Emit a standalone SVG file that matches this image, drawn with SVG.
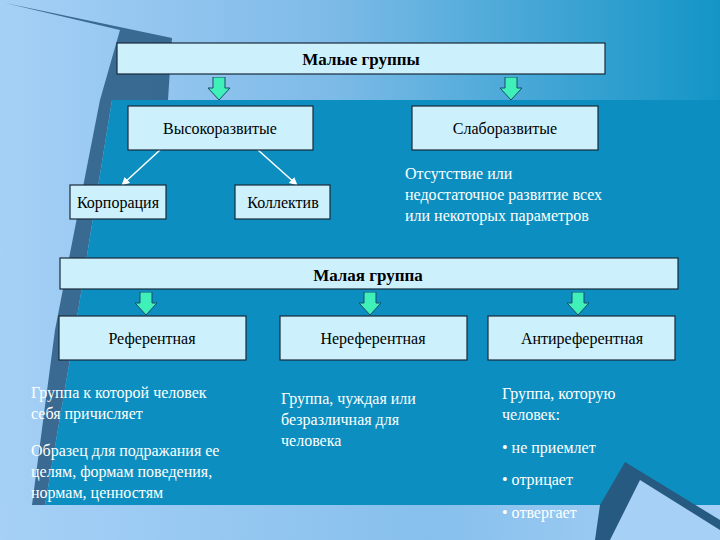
<svg xmlns="http://www.w3.org/2000/svg" width="720" height="540" viewBox="0 0 720 540">
<defs>
<linearGradient id="bg" x1="0" y1="0" x2="1" y2="0"><stop offset="0" stop-color="#a6d0f6"/><stop offset="0.45" stop-color="#7fbbe8"/><stop offset="1" stop-color="#1295c6"/></linearGradient>
<linearGradient id="bot" x1="0" y1="0" x2="1" y2="0"><stop offset="0" stop-color="#a6d0f6"/><stop offset="0.6" stop-color="#86c0ec"/><stop offset="1" stop-color="#a6d0f6"/></linearGradient>
<marker id="wa" markerWidth="8" markerHeight="8" refX="6" refY="4" orient="auto" markerUnits="userSpaceOnUse"><path d="M0,0 L8,4 L0,8 z" fill="#fff"/></marker>
<symbol id="ga" viewBox="0 0 24 24"><path d="M6,0 H18 V11 H23 L12,23 L1,11 H6 Z" fill="#3ff0b8" stroke="#1a4a6a" stroke-width="1"/></symbol>
</defs>
<style>
text{font-family:"Liberation Serif","DejaVu Serif","Times New Roman",serif;font-size:16px}
.box{fill:#ccf1fd;stroke:#1a2a3a;stroke-width:1.2}
.t{fill:#000;text-anchor:middle}
.b{font-weight:bold;font-size:17px}
.w{fill:#fff}
</style>
<rect width="720" height="540" fill="url(#bg)"/>
<rect x="0" y="505" width="720" height="35" fill="url(#bot)"/>
<polygon points="5,3 172,38 168,100 112,100 75,330 45,505 32,505 55,330 100,100 120,30" fill="#2f5f86" opacity="0.9"/>
<polygon points="112,100 720,100 720,505 600,505 45,505 75,330" fill="#0c8fc0"/>
<polygon points="600,505 625,462 720,520 720,540 595,540" fill="#275a80"/>
<polygon points="640,480 720,530 720,540 610,540" fill="#a6d0f6"/>
<g id="connectors">
<line x1="160" y1="150" x2="123" y2="184" stroke="#fff" stroke-width="1.5" marker-end="url(#wa)"/>
<line x1="258" y1="150" x2="296" y2="184" stroke="#fff" stroke-width="1.5" marker-end="url(#wa)"/>
<use href="#ga" x="205" y="77" width="28" height="24"/>
<use href="#ga" x="497" y="77" width="28" height="24"/>
<use href="#ga" x="132" y="292" width="28" height="24"/>
<use href="#ga" x="356" y="292" width="28" height="24"/>
<use href="#ga" x="564" y="292" width="28" height="24"/>
</g>
<g font-family="Liberation Serif, DejaVu Serif, serif">
<g id="n1"><rect class="box" x="117" y="43" width="488" height="31"/><text class="t b" x="361" y="65">Малые группы</text></g>
<g id="n2"><rect class="box" x="128" y="106" width="185" height="44"/><text class="t" x="220" y="134">Высокоразвитые</text></g>
<g id="n3"><rect class="box" x="412" y="106" width="186" height="44"/><text class="t" x="505" y="134">Слаборазвитые</text></g>
<g id="n4"><rect class="box" x="70" y="185" width="96" height="34"/><text class="t" x="118" y="208">Корпорация</text></g>
<g id="n5"><rect class="box" x="235" y="185" width="95" height="34"/><text class="t" x="283" y="208">Коллектив</text></g>
<g id="n6"><text class="w" x="405" y="179">Отсутствие или</text><text class="w" x="405" y="200">недостаточное развитие всех</text><text class="w" x="405" y="221">или некоторых параметров</text></g>
<g id="n7"><rect class="box" x="60" y="258" width="618" height="31"/><text class="t b" x="368" y="281">Малая группа</text></g>
<g id="n8"><rect class="box" x="59" y="316" width="187" height="44"/><text class="t" x="152" y="344">Референтная</text></g>
<g id="n9"><rect class="box" x="280" y="316" width="187" height="44"/><text class="t" x="373" y="344">Нереферентная</text></g>
<g id="n10"><rect class="box" x="488" y="316" width="187" height="44"/><text class="t" x="582" y="344">Антиреферентная</text></g>
<g id="n11"><text class="w" x="31" y="398">Группа к которой человек</text><text class="w" x="31" y="419">себя причисляет</text><text class="w" x="31" y="456">Образец для подражания ее</text><text class="w" x="31" y="477">целям, формам поведения,</text><text class="w" x="31" y="498">нормам, ценностям</text></g>
<g id="n12"><text class="w" x="281" y="404">Группа, чуждая или</text><text class="w" x="281" y="425">безразличная для</text><text class="w" x="281" y="446">человека</text></g>
<g id="n13"><text class="w" x="502" y="399">Группа, которую</text><text class="w" x="502" y="420">человек:</text><text class="w" x="502" y="453">• не приемлет</text><text class="w" x="502" y="485">• отрицает</text><text class="w" x="502" y="518">• отвергает</text></g>
</g>
</svg>
